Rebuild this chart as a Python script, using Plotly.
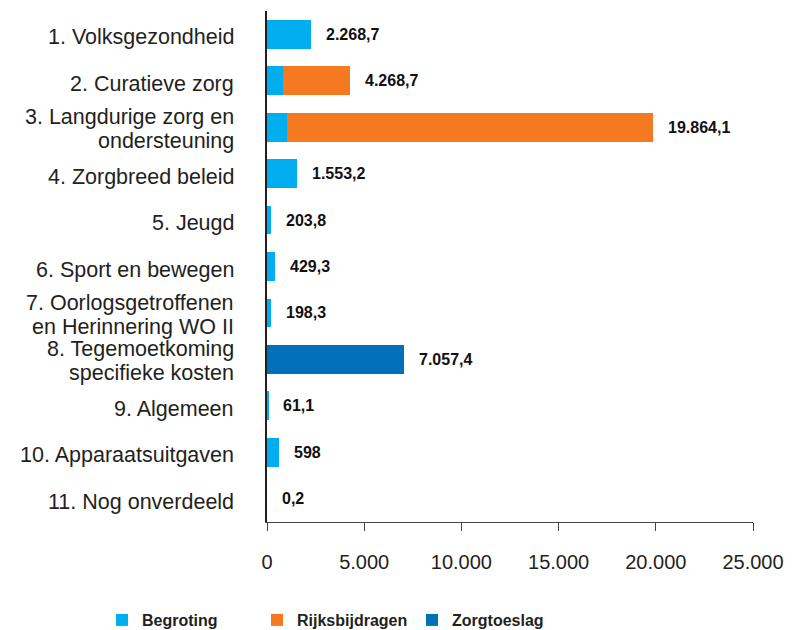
import plotly.graph_objects as go

categories = [
    "1. Volksgezondheid",
    "2. Curatieve zorg",
    "3. Langdurige zorg en\nondersteuning",
    "4. Zorgbreed beleid",
    "5. Jeugd",
    "6. Sport en bewegen",
    "7. Oorlogsgetroffenen\nen Herinnering WO II",
    "8. Tegemoetkoming\nspecifieke kosten",
    "9. Algemeen",
    "10. Apparaatsuitgaven",
    "11. Nog onverdeeld",
]
begroting = [2268.7, 800.0, 1050.0, 1553.2, 203.8, 429.3, 198.3, 0.0, 61.1, 598.0, 0.2]
rijksbijdragen = [0, 3468.7, 18814.1, 0, 0, 0, 0, 0, 0, 0, 0]
zorgtoeslag = [0, 0, 0, 0, 0, 0, 0, 7057.4, 0, 0, 0]
x_ticks = [0, 5000, 10000, 15000, 20000, 25000]

C_BEG = "#00AEEF"
C_RIJ = "#F47920"
C_ZOR = "#0070BA"
TXT = "#231F20"
FONT = "Liberation Sans, Arial, sans-serif"

totals = [b + r + z for b, r, z in zip(begroting, rijksbijdragen, zorgtoeslag)]


def nl(v):
    if abs(v - round(v)) < 1e-9:
        s = f"{round(v):,d}"
    else:
        s = f"{v:,.1f}"
    return s.replace(",", "X").replace(".", ",").replace("X", ".")


fig = go.Figure()
for name, vals, col in [("Begroting", begroting, C_BEG),
                        ("Rijksbijdragen", rijksbijdragen, C_RIJ),
                        ("Zorgtoeslag", zorgtoeslag, C_ZOR)]:
    fig.add_trace(go.Bar(
        y=categories, x=vals, name=name, orientation="h",
        marker=dict(color=col, line=dict(width=0)), width=0.62,
    ))

annotations = []
for cat, tot in zip(categories, totals):
    annotations.append(dict(
        x=tot, y=cat, xref="x", yref="y", text="<b>" + nl(tot) + "</b>",
        xanchor="left", yanchor="middle", xshift=13, showarrow=False,
        font=dict(family=FONT, size=16, color="#111"),
    ))
    lines = cat.split("\n")
    if len(lines) == 1:
        shifts = [-3]
    else:
        shifts = [10, -14]
    for ln, sh in zip(lines, shifts):
        annotations.append(dict(
            x=0, y=cat, xref="paper", yref="y", text=ln,
            xanchor="right", yanchor="middle", xshift=-31, yshift=sh,
            showarrow=False, font=dict(family=FONT, size=21.5, color=TXT),
        ))

W, H = 784, 622  # page body has an 8px default margin
fig.update_layout(
    width=W, height=H,
    margin=dict(l=259, r=39, t=3, b=108, autoexpand=False),
    barmode="stack",
    bargap=0.38,
    plot_bgcolor="white", paper_bgcolor="white",
    separators=",.",
    font=dict(family=FONT, color=TXT),
    annotations=annotations,
    showlegend=True,
    legend=dict(
        orientation="h", xref="container", yref="container",
        x=94 / W, xanchor="left", y=10 / H, yanchor="middle",
        font=dict(family=FONT, size=16, color=TXT, weight="bold"),
        traceorder="normal", entrywidth=110, itemclick=False,
    ),
    xaxis=dict(
        range=[0, 25000], tickvals=x_ticks, tickformat=",d",
        showgrid=False, zeroline=False,
        showline=True, linecolor="#444", linewidth=1,
        ticks="outside", ticklen=8, tickcolor="#444", tickwidth=1,
        tickfont=dict(family=FONT, size=20, color=TXT),
        ticklabelstandoff=14,
    ),
    yaxis=dict(
        autorange="reversed", showticklabels=False, showgrid=False,
        zeroline=False, showline=True, linecolor=TXT, linewidth=1.5,
        ticks="",
    ),
)

fig.write_html("out.html")
